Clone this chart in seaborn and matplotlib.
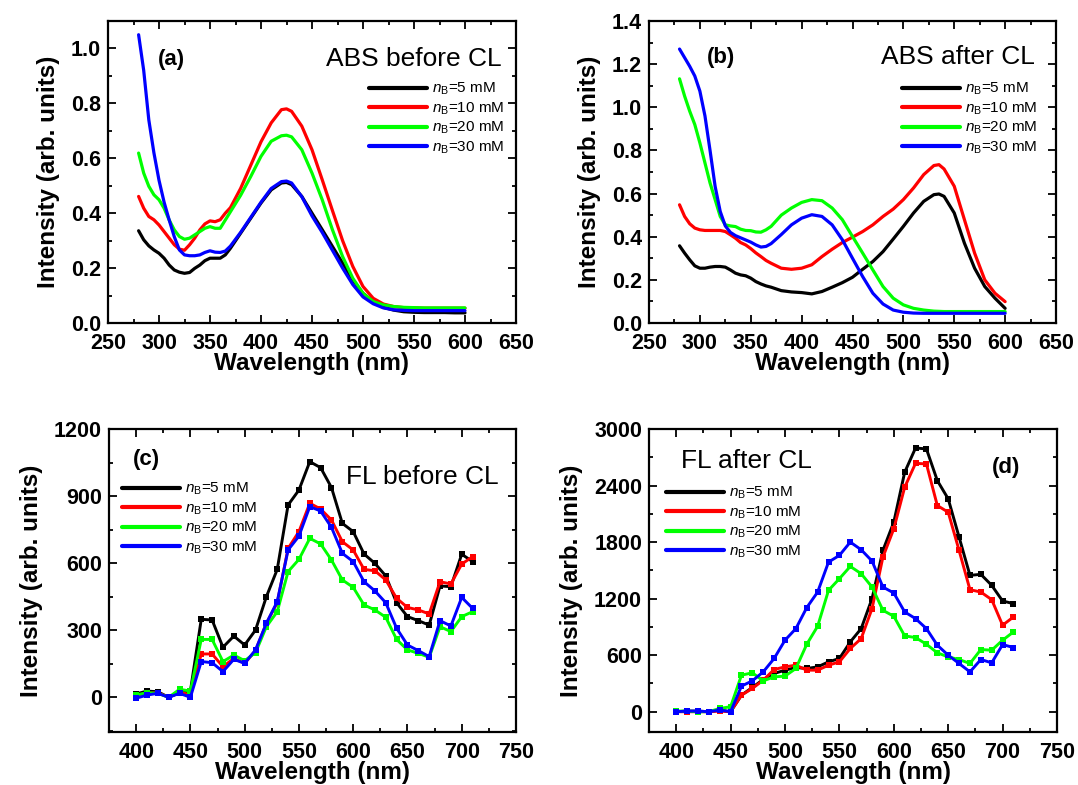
import numpy as np
import pandas as pd
import matplotlib
matplotlib.use('Agg')
import matplotlib.pyplot as plt
import seaborn as sns
from matplotlib.lines import Line2D
from matplotlib.ticker import MultipleLocator, FormatStrFormatter

# ---------------- data ----------------
conc_labels = ['5 mM', '10 mM', '20 mM', '30 mM']
colors = ['#000000', '#FF0000', '#00FF00', '#0000FF']

# (a) ABS before CL
wl_a = [280, 285, 290, 295, 300, 305, 310, 315, 320, 325, 330, 335, 340, 345, 350, 355, 360, 365, 370,
        380, 390, 400, 410, 420, 425, 430, 440, 450, 460, 470, 480, 490, 500, 510, 520, 530, 540,
        550, 560, 570, 580, 590, 600]
abs_a_5 = [0.336, 0.303, 0.281, 0.266, 0.254, 0.236, 0.211, 0.193, 0.185, 0.181, 0.184, 0.199, 0.211,
           0.227, 0.236, 0.236, 0.236, 0.248, 0.272,
           0.327, 0.382, 0.437, 0.485, 0.510, 0.512, 0.504, 0.461, 0.400, 0.340, 0.279, 0.218, 0.157,
           0.108, 0.078, 0.057, 0.047, 0.041, 0.039, 0.038, 0.038, 0.038, 0.037, 0.037]
abs_a_10 = [0.461, 0.418, 0.388, 0.376, 0.357, 0.333, 0.309, 0.285, 0.269, 0.265, 0.285, 0.309, 0.339,
            0.361, 0.372, 0.369, 0.376, 0.400, 0.420,
            0.490, 0.575, 0.660, 0.729, 0.777, 0.780, 0.771, 0.717, 0.631, 0.522, 0.410, 0.300, 0.206,
            0.133, 0.090, 0.069, 0.060, 0.056, 0.055, 0.054, 0.054, 0.054, 0.054, 0.054]
abs_a_20 = [0.619, 0.546, 0.498, 0.467, 0.449, 0.418, 0.375, 0.339, 0.315, 0.305, 0.309, 0.321, 0.333,
            0.345, 0.351, 0.345, 0.345, 0.375, 0.405,
            0.465, 0.534, 0.607, 0.662, 0.682, 0.684, 0.678, 0.631, 0.546, 0.449, 0.340, 0.242, 0.163,
            0.108, 0.078, 0.066, 0.060, 0.057, 0.056, 0.055, 0.055, 0.055, 0.055, 0.055]
abs_a_30 = [1.050, 0.920, 0.740, 0.620, 0.520, 0.440, 0.375, 0.314, 0.266, 0.248, 0.245, 0.245, 0.248,
            0.257, 0.263, 0.258, 0.257, 0.262, 0.280,
            0.330, 0.385, 0.440, 0.490, 0.515, 0.517, 0.510, 0.460, 0.390, 0.330, 0.265, 0.200, 0.140,
            0.095, 0.070, 0.055, 0.048, 0.046, 0.045, 0.045, 0.045, 0.045, 0.045, 0.045]

# (b) ABS after CL
wl_b = [280, 285, 290, 295, 300, 305, 310, 315, 320, 325, 330, 335, 340, 345, 350, 355, 360, 365, 370,
        380, 390, 400, 410, 420, 430, 440, 450, 460, 470, 480, 490, 500, 510, 520, 530, 535, 540,
        550, 560, 570, 580, 590, 600]
abs_b_5 = [0.358, 0.324, 0.293, 0.265, 0.254, 0.254, 0.259, 0.262, 0.262, 0.259, 0.246, 0.231, 0.223,
           0.219, 0.208, 0.192, 0.181, 0.172, 0.166,
           0.150, 0.144, 0.141, 0.135, 0.146, 0.166, 0.187, 0.212, 0.249, 0.285, 0.331, 0.389, 0.448,
           0.510, 0.564, 0.595, 0.598, 0.587, 0.510, 0.370, 0.254, 0.169, 0.115, 0.068]
abs_b_10 = [0.548, 0.494, 0.460, 0.440, 0.432, 0.429, 0.429, 0.429, 0.429, 0.424, 0.409, 0.393, 0.373,
            0.362, 0.345, 0.325, 0.308, 0.290, 0.277,
            0.254, 0.249, 0.254, 0.270, 0.308, 0.342, 0.373, 0.398, 0.424, 0.455, 0.494, 0.528, 0.572,
            0.626, 0.688, 0.730, 0.734, 0.714, 0.634, 0.479, 0.324, 0.200, 0.138, 0.099]
abs_b_20 = [1.132, 1.052, 0.982, 0.920, 0.835, 0.742, 0.649, 0.572, 0.494, 0.455, 0.450, 0.447, 0.435,
            0.429, 0.428, 0.422, 0.421, 0.432, 0.448,
            0.500, 0.533, 0.559, 0.572, 0.567, 0.533, 0.479, 0.401, 0.324, 0.246, 0.169, 0.115, 0.084,
            0.068, 0.060, 0.055, 0.054, 0.053, 0.053, 0.053, 0.053, 0.053, 0.053, 0.053]
abs_b_30 = [1.270, 1.230, 1.190, 1.145, 1.075, 0.960, 0.800, 0.633, 0.517, 0.450, 0.420, 0.405, 0.395,
            0.385, 0.375, 0.362, 0.352, 0.355, 0.368,
            0.410, 0.455, 0.486, 0.502, 0.494, 0.455, 0.386, 0.300, 0.215, 0.138, 0.088, 0.060, 0.050,
            0.046, 0.045, 0.045, 0.045, 0.045, 0.045, 0.045, 0.045, 0.045, 0.045, 0.045]

# (c) FL before CL and (d) FL after CL
wl_fl = [400, 410, 420, 430, 440, 450, 460, 470, 480, 490, 500, 510, 520, 530, 540, 550,
         560, 570, 580, 590, 600, 610, 620, 630, 640, 650, 660, 670, 680, 690, 700, 710]
fl_c_5 = [15, 28, 25, 0, 21, 28, 349, 346, 224, 274, 234, 301, 450, 572, 860, 927,
          1054, 1027, 938, 778, 741, 641, 599, 543, 423, 361, 343, 323, 498, 495, 640, 607]
fl_c_10 = [10, 18, 21, 0, 25, 10, 194, 194, 137, 174, 152, 209, 331, 423, 666, 741,
           868, 842, 793, 696, 659, 572, 566, 525, 443, 402, 391, 373, 517, 507, 596, 629]
fl_c_20 = [10, 21, 18, 0, 36, 28, 259, 259, 160, 189, 164, 200, 316, 383, 562, 617,
           711, 686, 614, 525, 492, 413, 391, 358, 259, 212, 197, 179, 316, 294, 361, 383]
fl_c_30 = [-4, 10, 18, 0, 18, 0, 160, 155, 115, 170, 152, 212, 331, 428, 659, 721,
           853, 833, 760, 644, 607, 517, 476, 423, 309, 234, 209, 182, 343, 319, 447, 398]

fl_d_5 = [0, 7, 7, 0, 18, 0, 176, 258, 342, 406, 441, 469, 459, 476, 529, 565,
          741, 882, 1200, 1712, 2012, 2541, 2799, 2788, 2453, 2259, 1853, 1447, 1458, 1341, 1175, 1147]
fl_d_10 = [0, 0, 0, 0, 7, 0, 176, 247, 335, 448, 476, 494, 441, 441, 494, 529,
           671, 776, 1094, 1641, 1941, 2382, 2636, 2629, 2188, 2117, 1712, 1295, 1270, 1189, 918, 1006]
fl_d_20 = [7, 7, 0, 0, 35, 53, 388, 413, 328, 370, 378, 459, 716, 907, 1288, 1412,
           1542, 1465, 1323, 1076, 1013, 805, 787, 716, 625, 582, 554, 512, 660, 653, 759, 847]
fl_d_30 = [0, 7, 7, 0, 18, 0, 272, 328, 423, 565, 759, 882, 1105, 1270, 1588, 1659,
           1800, 1719, 1599, 1323, 1260, 1059, 988, 882, 706, 600, 512, 423, 554, 519, 713, 681]

# ---------------- style ----------------
sns.set_theme(style='ticks')
plt.rcParams['font.family'] = ['Liberation Sans', 'DejaVu Sans']
plt.rcParams['font.weight'] = 'bold'
plt.rcParams['mathtext.fontset'] = 'custom'
plt.rcParams['mathtext.rm'] = 'Liberation Sans:weight=normal'
plt.rcParams['mathtext.it'] = 'Liberation Sans:style=italic:weight=normal'
plt.rcParams['mathtext.bf'] = 'Liberation Sans:weight=bold'
for k in ['text.color', 'axes.labelcolor', 'xtick.color', 'ytick.color', 'axes.edgecolor']:
    plt.rcParams[k] = 'black'

W, H = 1078, 785
fig = plt.figure(figsize=(W / 100, H / 100), dpi=100)


def axpos(l, t, r, b):
    return [l / W, 1 - b / H, (r - l) / W, (b - t) / H]


ax_a = fig.add_axes(axpos(108, 21, 516, 323))
ax_b = fig.add_axes(axpos(649, 21, 1056, 323))
ax_c = fig.add_axes(axpos(109, 429, 516, 732))
ax_d = fig.add_axes(axpos(649, 429, 1057, 732))


def long_df(wl, series):
    return pd.DataFrame({
        'wl': np.tile(wl, len(series)),
        'val': np.concatenate([np.asarray(s, dtype=float) for s in series]),
        'conc': np.repeat(conc_labels, len(wl)),
    })


df_a = long_df(wl_a, [abs_a_5, abs_a_10, abs_a_20, abs_a_30])
df_b = long_df(wl_b, [abs_b_5, abs_b_10, abs_b_20, abs_b_30])
df_c = long_df(wl_fl, [fl_c_5, fl_c_10, fl_c_20, fl_c_30])
df_d = long_df(wl_fl, [fl_d_5, fl_d_10, fl_d_20, fl_d_30])

for ax, df in [(ax_a, df_a), (ax_b, df_b)]:
    sns.lineplot(data=df, x='wl', y='val', hue='conc', hue_order=conc_labels, palette=colors,
                 ax=ax, legend=False, errorbar=None, linewidth=2.3)
for ax, df in [(ax_c, df_c), (ax_d, df_d)]:
    sns.lineplot(data=df, x='wl', y='val', hue='conc', hue_order=conc_labels, palette=colors,
                 ax=ax, legend=False, errorbar=None, linewidth=2.1, marker='s',
                 markersize=3.8, markeredgewidth=0)

# axes limits and ticks
ax_a.set_xlim(250, 650); ax_a.set_ylim(0, 1.1)
ax_a.yaxis.set_major_locator(MultipleLocator(0.2)); ax_a.yaxis.set_minor_locator(MultipleLocator(0.1))
ax_b.set_xlim(250, 650); ax_b.set_ylim(0, 1.4)
ax_b.yaxis.set_major_locator(MultipleLocator(0.2)); ax_b.yaxis.set_minor_locator(MultipleLocator(0.1))
for ax in (ax_a, ax_b):
    ax.xaxis.set_major_locator(MultipleLocator(50)); ax.xaxis.set_minor_locator(MultipleLocator(25))
    ax.yaxis.set_major_formatter(FormatStrFormatter('%.1f'))
ax_c.set_xlim(375, 750); ax_c.set_ylim(-155, 1200)
ax_c.yaxis.set_major_locator(MultipleLocator(300)); ax_c.yaxis.set_minor_locator(MultipleLocator(150))
ax_d.set_xlim(375, 750); ax_d.set_ylim(-215, 3000)
ax_d.yaxis.set_major_locator(MultipleLocator(600)); ax_d.yaxis.set_minor_locator(MultipleLocator(300))
for ax in (ax_c, ax_d):
    ax.xaxis.set_major_locator(MultipleLocator(50)); ax.xaxis.set_minor_locator(MultipleLocator(25))

for ax in (ax_a, ax_b, ax_c, ax_d):
    ax.tick_params(which='both', direction='in', top=True, right=True, width=1.3,
                   labelsize=15.5, colors='black')
    ax.tick_params(axis='y', which='major', length=5.5, pad=5)
    ax.tick_params(axis='x', which='major', length=5.5, pad=7)
    ax.tick_params(which='minor', length=3)
    for s in ax.spines.values():
        s.set_linewidth(1.6)
        s.set_color('black')
    ax.set_xlabel('Wavelength (nm)', fontsize=17.5, fontweight='bold', labelpad=-1)
    ax.set_ylabel('Intensity (arb. units)', fontsize=17.5, fontweight='bold', labelpad=8)


# legends
def add_legend(ax, x, y):
    handles = [Line2D([], [], color=c, lw=3) for c in colors]
    labs = [r'$\mathit{n}_{\mathrm{B}}$=' + s for s in conc_labels]
    ax.legend(handles, labs, loc='upper left', bbox_to_anchor=(x / W, 1 - y / H),
              bbox_transform=fig.transFigure, frameon=False, borderpad=0, borderaxespad=0,
              handlelength=3.8, handletextpad=0.3, labelspacing=0.2,
              prop={'size': 11, 'weight': 'normal'})


add_legend(ax_a, 369, 81)
add_legend(ax_b, 902, 81)
add_legend(ax_c, 122, 481)
add_legend(ax_d, 666, 485)


def ftext(x, y, s, **kw):
    fig.text(x / W, 1 - y / H, s, va='center', **kw)


ftext(158, 60, '(a)', ha='left', fontsize=16, fontweight='bold')
ftext(502, 59, 'ABS before CL', ha='right', fontsize=19, fontweight='normal')
ftext(707, 57, '(b)', ha='left', fontsize=16, fontweight='bold')
ftext(1035, 57, 'ABS after CL', ha='right', fontsize=19, fontweight='normal')
ftext(133, 460, '(c)', ha='left', fontsize=16, fontweight='bold')
ftext(499, 477, 'FL before CL', ha='right', fontsize=19, fontweight='normal')
ftext(681, 461, 'FL after CL', ha='left', fontsize=19, fontweight='normal')
ftext(992, 467, '(d)', ha='left', fontsize=16, fontweight='bold')

fig.savefig('out.png', dpi=100)
